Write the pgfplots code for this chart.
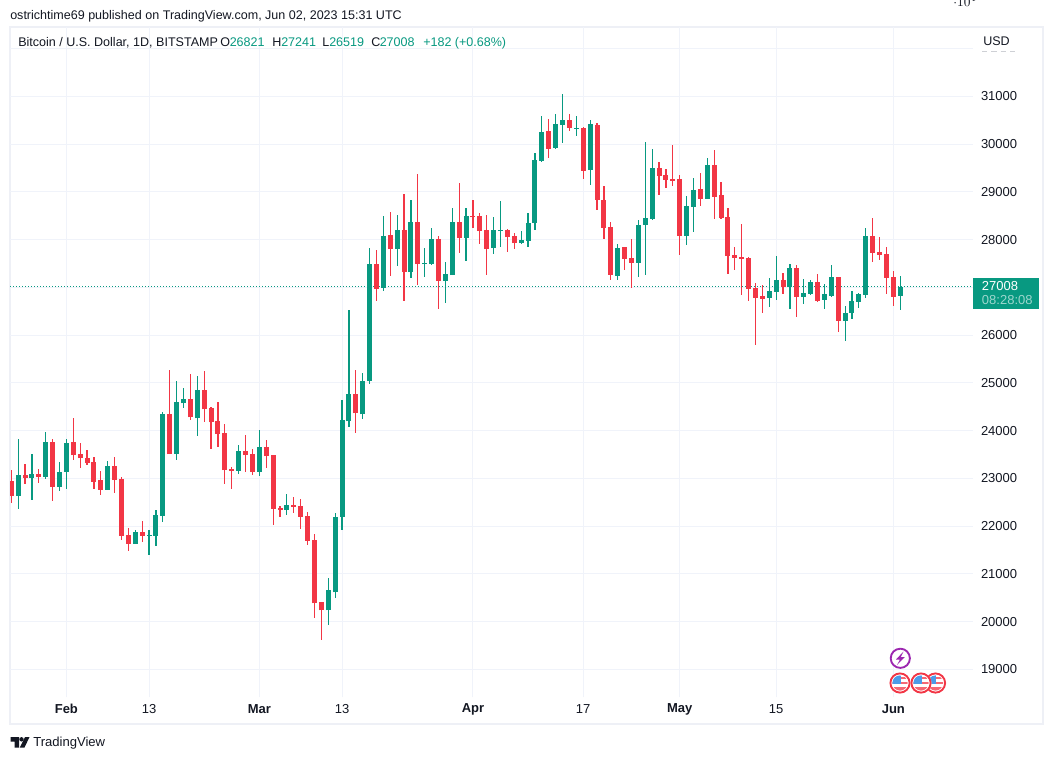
\documentclass[border=0pt]{standalone}
\usepackage{pgfplots}
\usepackage{pgfplotstable}
\usepackage{fontspec}
\setmainfont{Liberation Sans}
\pgfplotsset{compat=1.18}
\definecolor{upc}{HTML}{089981}
\definecolor{dnc}{HTML}{F23645}
\definecolor{gridc}{HTML}{F0F3FA}
\definecolor{framec}{HTML}{EEF0F6}
\definecolor{txt}{HTML}{131722}
\definecolor{purp}{HTML}{9C27B0}
\definecolor{flagb}{HTML}{4C9BE8}
\pgfplotstableread{
d low bot top high
-7 22361 22632 23069 23819
-5 22548 23007 23090 23507
-3 22986 23028 23757 23965
-1 22736 22819 23132 23340
0 22778 23132 23736 23819
6 22757 22757 23257 23361
10 21632 21632 21882 21923
12 21403 21799 21819 21923
13 21590 21799 22236 22340
14 22090 22215 24340 24382
16 23382 23507 24590 25028
17 24465 24569 24653 24882
19 23882 24257 24840 25132
25 23090 23153 23569 23694
28 23049 23132 23653 24007
32 22236 22340 22444 22674
38 19924 20236 20653 20903
39 20486 20611 22194 22278
40 21924 22194 24215 24632
41 24069 24194 24757 26528
43 24236 24340 25048 25215
44 24965 25028 27486 27820
46 26924 26986 28070 28486
48 27445 27799 28195 28507
50 27195 27320 28361 28820
52 27216 27486 27507 27820
53 27466 27486 28007 28236
55 26674 27132 27278 27528
56 27257 27257 28361 28653
58 27549 28028 28486 28653
62 27695 27820 28195 28466
63 27841 28174 28195 28799
66 27903 27924 27986 28174
67 27845 27970 28347 28557
68 28201 28347 29667 29813
69 29625 29645 30253 30588
71 29897 29918 30420 30630
72 30022 30399 30504 31049
74 30169 30316 30337 30588
76 29143 29457 30420 30504
80 27154 27237 27824 27907
83 27217 27510 28305 28410
84 27258 28305 28452 30043
85 28410 28431 29499 29897
90 27887 28075 28703 28913
91 28159 28682 29038 29290
93 28850 28850 29555 29700
102 26594 26782 26929 27201
103 26740 26908 27159 27662
105 26552 27013 27411 27494
107 26657 26803 26887 27180
108 26845 26866 27117 27159
110 26552 26740 26866 27076
111 26803 26824 27222 27473
113 25882 26301 26468 26615
114 26343 26468 26720 26929
115 26573 26699 26866 26887
116 26782 26845 28081 28248
121 26519 26821 27008 27241
}\upt
\pgfplotstableread{
d low bot top high
-8 22479 22632 22944 23173
-6 22882 23007 23069 23298
-4 22903 23028 23090 23194
-2 22528 22819 23757 23819
1 23382 23486 23757 24257
2 23215 23423 23507 23736
3 23278 23319 23423 23590
4 22778 22923 23340 23444
5 22653 22757 22965 23153
7 22694 22965 23257 23444
8 21715 21799 22986 23028
9 21486 21632 21819 21965
11 21674 21799 21882 22111
15 23507 23507 24340 25278
18 24215 24278 24653 25194
20 24173 24444 24840 25257
21 23611 24173 24465 24486
22 23653 23923 24194 24590
23 22882 23173 23944 24132
24 22778 23153 23194 23236
26 23132 23486 23569 23903
27 23069 23132 23507 23611
29 23215 23465 23653 23799
30 22028 22361 23486 23486
31 22194 22340 22382 22424
33 22278 22403 22444 22611
34 21944 22194 22424 22569
35 21611 21694 22215 22299
36 20070 20382 21715 21840
37 19611 20236 20403 20403
42 23944 24361 24757 25278
45 26716 26966 27486 27778
47 27236 27799 28091 28570
49 26716 27320 28195 28945
51 27049 27486 28361 29382
54 26549 27132 28007 28070
57 27716 28028 28361 29174
59 28236 28466 28486 28820
60 27903 28174 28486 28549
61 27257 27799 28195 28507
64 27736 28049 28195 28215
65 27799 27924 28070 28132
70 29708 29897 30274 30525
73 30274 30337 30504 30630
75 29269 29436 30337 30358
77 28619 28829 30399 30441
78 28012 28243 28829 29122
79 27154 27258 28264 28368
81 27363 27593 27845 27845
82 26986 27510 27614 28012
86 28934 29331 29499 29625
87 29080 29248 29352 29478
88 29122 29227 29269 29981
89 27677 28075 29269 29352
92 28703 28850 29059 29394
94 28431 28897 29555 29870
95 28437 28458 28925 29198
96 27285 27662 28479 28667
97 27369 27620 27683 27850
98 26845 27599 27641 28332
99 26720 26971 27620 27641
100 25798 26782 26992 27097
101 26468 26761 26824 27055
104 26866 27013 27159 27306
106 26385 26803 27411 27473
109 26699 26720 27117 27285
112 26070 26301 27222 27222
117 27536 27725 28081 28458
118 27578 27683 27746 28060
119 26866 27201 27704 27850
120 26615 26803 27222 27348
}\dnt
\newcommand{\wick}[2]{\addplot[draw=none,mark=none,forget plot,error bars/.cd,y dir=both,y explicit,error mark=none,error bar style={draw=#1,solid,line width=0.9pt}] table[x=d,y=bot,y error plus expr=\thisrow{high}-\thisrow{bot},y error minus expr=\thisrow{bot}-\thisrow{low}] {#2};}
\newcommand{\body}[2]{\addplot[draw=none,mark=none,forget plot,error bars/.cd,y dir=plus,y explicit,error mark=none,error bar style={draw=#1,solid,line width=3.75pt}] table[x=d,y=bot,y error plus expr=\thisrow{top}-\thisrow{bot}] {#2};}
\newcommand{\tx}[4][txt]{\node[anchor=base west,inner sep=0pt,text=#1,font=\fontsize{#2}{#2}\selectfont] at #3 {#4};}
\newcommand{\flag}[2]{%
 \begin{scope}[shift={(#1,#2)}]
  \fill[white] (0,0) circle (10.5);
  \begin{scope}
   \clip (0,0) circle (7.6);
   \fill[white] (-9,-9) rectangle (9,9);
   \fill[dnc!75] (-9,-1.5) rectangle (9,1);
   \fill[dnc!75] (-9,3.5) rectangle (9,9);
   \fill[dnc!75] (0,-6) rectangle (9,-3.8);
   \fill[flagb] (-9,-9) rectangle (0.5,0.5);
  \end{scope}
  \draw[dnc,line width=1.4pt] (0,0) circle (9.6);
 \end{scope}}
\begin{document}
\begin{tikzpicture}
\path[use as bounding box] (0,0) rectangle (789.75pt,-569.25pt);
\fill[white] (0,0) rectangle (789.75pt,-569.25pt);
\draw[framec,line width=1.5pt] (7.5pt,-19.9pt) rectangle (782.2pt,-543pt);
\begin{axis}[
  at={(7.5pt,-522.75pt)},anchor=south west,
  scale only axis,width=722.25pt,height=502.5pt,
  xmin=-8.18,xmax=131.56,ymin=18420,ymax=32451,
  axis line style={draw=none},
  major tick length=0pt,
  xmajorgrids,ymajorgrids,
  major grid style={draw=gridc,line width=0.75pt},
  xtick={0,12,28,40,59,75,89,103,120},
  xticklabels={\textbf{Feb},13,\textbf{Mar},13,\textbf{Apr},17,\textbf{May},15,\textbf{Jun}},
  ytick={19000,20000,21000,22000,23000,24000,25000,26000,27000,28000,29000,30000,31000,32000},
  yticklabels={19000,20000,21000,22000,23000,,25000,26000,,28000,29000,30000,31000,{}},
  yticklabels={19000,20000,21000,22000,23000,24000,25000,26000,{},28000,29000,30000,31000,{}},
  yticklabel pos=right,
  ticklabel style={text=txt,font=\fontsize{9.75pt}{9.75pt}\selectfont},
  x tick label style={anchor=center,yshift=-9.2pt},
  y tick label style={anchor=west,inner sep=0pt,xshift=5.8pt},
]
\addplot[upc,line width=0.75pt,dash pattern=on 0.75pt off 1.5pt,forget plot] coordinates {(-8.18,27008) (131.56,27008)};
\wick{upc}{\upt}
\wick{dnc}{\dnt}
\body{upc}{\upt}
\body{dnc}{\dnt}
\end{axis}
\begin{scope}[x=0.75pt,y=-0.75pt]
\tx{9.4pt}{(10,19.8)}{ostrichtime69 published on TradingView.com, Jun 02, 2023 15:31 UTC}
\tx{9.4pt}{(18,46.5)}{Bitcoin / U.S. Dollar, 1D, BITSTAMP}
\tx{9.4pt}{(220,46.5)}{O}
\tx[upc]{9.4pt}{(229.5,46.5)}{26821}
\tx{9.4pt}{(272,46.5)}{H}
\tx[upc]{9.4pt}{(281,46.5)}{27241}
\tx{9.4pt}{(322,46.5)}{L}
\tx[upc]{9.4pt}{(329,46.5)}{26519}
\tx{9.4pt}{(371,46.5)}{C}
\tx[upc]{9.4pt}{(379.5,46.5)}{27008}
\tx[upc]{9.4pt}{(423,46.5)}{+182 (+0.68\%)}
\tx{9.4pt}{(983,45.5)}{USD}
\draw[gridc!70!gray,line width=0.6pt,dash pattern=on 4pt off 3pt] (982,51) -- (1017,51);
\fill[upc] (973,278) rectangle (1039,309);
\tx[white]{9.75pt}{(981.7,290.8)}{27008}
\tx[white!60!upc]{9.75pt}{(981.7,304.5)}{08:28:08}
% events
\fill[white] (900.3,658.3) circle (11);
\draw[purp,line width=1.4pt] (900.3,658.3) circle (9.6);
\fill[purp] (903.5,651.5) -- (896,659.5) -- (900,659.5) -- (897,665) -- (904.8,657) -- (900.8,657) -- cycle;
\flag{935.5}{683}
\flag{921}{683}
\flag{900}{683}
% logo
\fill[txt] (10.5,737) -- (19,737) -- (19,747.5) -- (14.5,747.5) -- (14.5,741.5) -- (10.5,741.5) -- cycle;
\fill[txt] (21.5,739.3) circle (2.2);
\fill[txt] (25,737) -- (29.5,737) -- (24.5,747.5) -- (19.8,747.5) -- cycle;
\tx{9.8pt}{(33,746.7)}{TradingView}
\end{scope}
\end{tikzpicture}
\end{document}
